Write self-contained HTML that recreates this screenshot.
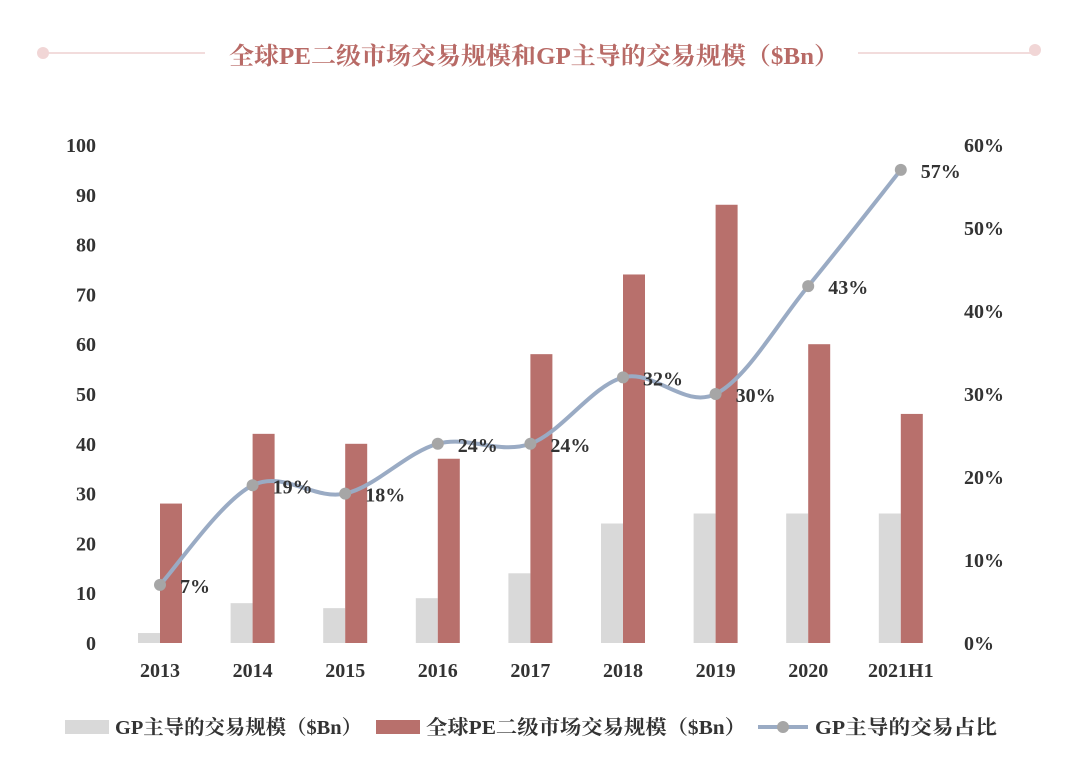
<!DOCTYPE html>
<html><head><meta charset="utf-8"><style>
body{margin:0;background:#fff;}
svg text{font-family:"Liberation Serif","Noto Serif CJK SC",serif;font-weight:bold;}
</style></head><body>
<svg id="chart" width="1080" height="777" xmlns="http://www.w3.org/2000/svg">
<line x1="43" y1="53" x2="205" y2="53" stroke="#f2dcdc" stroke-width="2"/>
<circle cx="43" cy="53" r="6" fill="#f1d6d6"/>
<line x1="858" y1="53" x2="1035" y2="53" stroke="#f2dcdc" stroke-width="2"/>
<circle cx="1035" cy="50" r="6" fill="#f1d6d6"/>
<text x="534" y="64" text-anchor="middle" font-size="24" textLength="610" lengthAdjust="spacingAndGlyphs" fill="#b86a66">全球PE二级市场交易规模和GP主导的交易规模（$Bn）</text>
<g id="axes"></g><g id="bars"></g><g id="line"></g>
<g>
<rect x="65" y="720" width="44" height="14" fill="#d9d9d9"/>
<text x="115" y="734" font-size="20" textLength="247" lengthAdjust="spacingAndGlyphs" fill="#333">GP主导的交易规模（$Bn）</text>
<rect x="376" y="720" width="44" height="14" fill="#b8706c"/>
<text x="426" y="734" font-size="20" textLength="320" lengthAdjust="spacingAndGlyphs" fill="#333">全球PE二级市场交易规模（$Bn）</text>
<line x1="758" y1="727" x2="808" y2="727" stroke="#9aabc4" stroke-width="4"/>
<circle cx="783" cy="727" r="6" fill="#a6a6a6"/>
<text x="815" y="734" font-size="20" textLength="182" lengthAdjust="spacingAndGlyphs" fill="#333">GP主导的交易占比</text>
</g>
</svg>
<script>
const categories=["2013","2014","2015","2016","2017","2018","2019","2020","2021H1"];
const gpValues=[2,8,7,9,14,24,26,26,26];
const globalValues=[28,42,40,37,58,74,88,60,46];
const ratioValues=[7,19,18,24,24,32,30,43,57];
const leftTicks=[0,10,20,30,40,50,60,70,80,90,100];
const rightTicks=[0,10,20,30,40,50,60];
const NS="http://www.w3.org/2000/svg";
const y0=643,y1=145;
const yL=v=>y0-(v/100)*(y0-y1);
const yR=v=>y0-(v/60)*(y0-y1);
const xC=i=>160+i*92.6;
function mk(tag,attrs,parent,txt){const e=document.createElementNS(NS,tag);for(const k in attrs)e.setAttribute(k,attrs[k]);if(txt!==undefined)e.textContent=txt;document.getElementById(parent).appendChild(e);return e;}
leftTicks.forEach(t=>{const e=mk("text",{x:96,y:yL(t)+7,"text-anchor":"end","font-size":"20",fill:"#333"},"axes",t);

});
rightTicks.forEach(t=>{const e=mk("text",{x:964,y:yR(t)+7,"font-size":"20",fill:"#333"},"axes",t+"%");

});
categories.forEach((c,i)=>{const e=mk("text",{x:xC(i),y:677,"text-anchor":"middle","font-size":"20",fill:"#333"},"axes",c);


const g=mk("rect",{x:xC(i)-22,y:yL(gpValues[i]),width:22,height:y0-yL(gpValues[i]),fill:"#d9d9d9"},"bars");


const r=mk("rect",{x:xC(i),y:yL(globalValues[i]),width:22,height:y0-yL(globalValues[i]),fill:"#b8706c"},"bars");

});
const pts=ratioValues.map((v,i)=>[xC(i),yR(v)]);
let d="M"+pts[0][0]+","+pts[0][1];
for(let i=0;i<pts.length-1;i++){const p0=pts[i-1]||pts[i],p1=pts[i],p2=pts[i+1],p3=pts[i+2]||p2;
const c1=[p1[0]+(p2[0]-p0[0])/6,p1[1]+(p2[1]-p0[1])/6],c2=[p2[0]-(p3[0]-p1[0])/6,p2[1]-(p3[1]-p1[1])/6];
d+=" C"+c1+" "+c2+" "+p2;}
const path=mk("path",{d:d,fill:"none",stroke:"#9aabc4","stroke-width":"4"},"line");


pts.forEach((p,i)=>{const c=mk("circle",{cx:p[0],cy:p[1],r:6,fill:"#a6a6a6"},"line");


const t=mk("text",{x:p[0]+20,y:p[1]+8,"font-size":"20",fill:"#333"},"line",ratioValues[i]+"%");

});
</script>
</body></html>
